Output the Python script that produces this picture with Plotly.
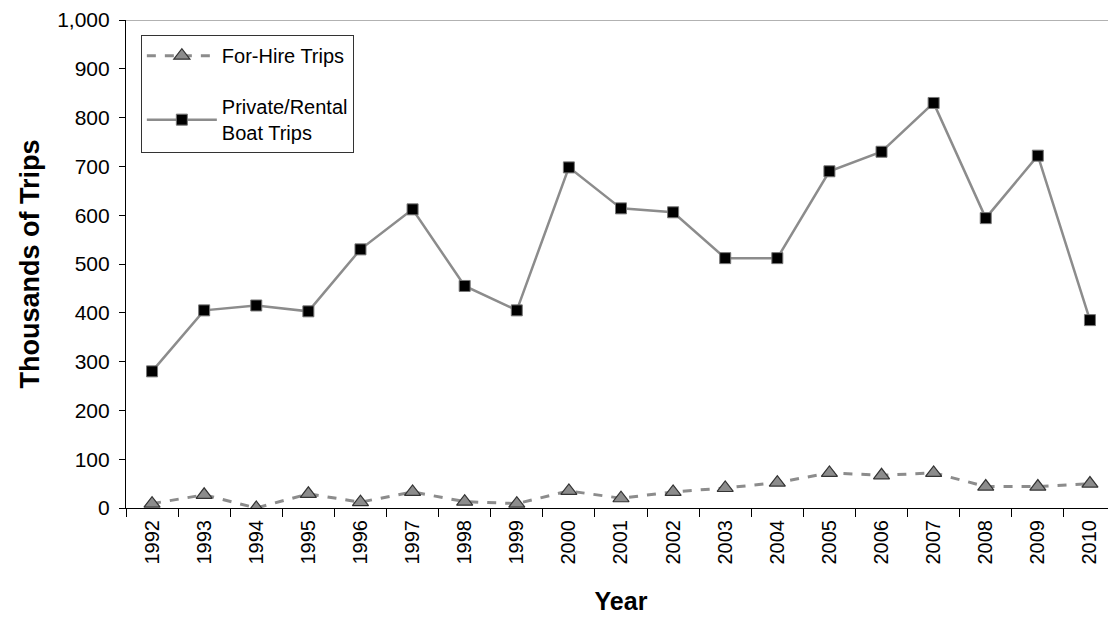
import plotly.graph_objects as go

years = [str(y) for y in range(1992, 2011)]
for_hire = [9, 27, 0, 29, 12, 33, 13, 9, 35, 20, 33, 41, 52, 72, 67, 72, 44, 44, 50]
private_rental = [280, 405, 415, 403, 530, 612, 455, 405, 698, 614, 606, 512, 512, 690, 730, 830, 594, 722, 385]
y_ticks = [0, 100, 200, 300, 400, 500, 600, 700, 800, 900, 1000]

fig = go.Figure()
fig.add_trace(go.Scatter(
    x=years, y=for_hire, name="For-Hire Trips", mode="lines+markers",
    line=dict(color="#8c8c8c", width=3, dash="dash"),
    marker=dict(symbol="triangle-up", size=14, color="#8c8c8c",
                line=dict(color="#333333", width=1.2)),
    legendgroup="a",
))
fig.add_trace(go.Scatter(
    x=years, y=private_rental, name="Private/Rental<br>Boat Trips", mode="lines+markers",
    line=dict(color="#8c8c8c", width=2.5),
    marker=dict(symbol="square", size=11, color="#000000",
                line=dict(color="#777777", width=1)),
    legendgroup="b",
))

font_family = "Liberation Sans, Arial, sans-serif"
fig.update_layout(
    width=1116, height=620,
    margin=dict(l=118, r=8, t=12, b=120),
    paper_bgcolor="white", plot_bgcolor="white",
    font=dict(family=font_family, size=20, color="#000000"),
    showlegend=True,
    legend=dict(
        x=0.015, y=0.969, xanchor="left", yanchor="top",
        bordercolor="#333333", borderwidth=1, bgcolor="white",
        font=dict(size=20, family=font_family),
        tracegroupgap=22, itemwidth=70,
    ),
    xaxis=dict(
        type="category", range=[-0.5, 18.5], automargin=False,
        showgrid=False, showline=True, linecolor="#000000", linewidth=1.2,
        ticks="outside", ticklen=8, tickcolor="#000000", tickson="boundaries",
        tickangle=-90, tickfont=dict(size=20), ticklabelstandoff=3,
        title=dict(text="<b>Year</b>", font=dict(size=25), standoff=28),
    ),
    yaxis=dict(
        range=[0, 1000], tickvals=y_ticks, tickformat=",", automargin=False,
        showgrid=False, zeroline=False, showline=True, linecolor="#000000", linewidth=1.2,
        ticks="outside", ticklen=6, tickcolor="#000000",
        tickfont=dict(size=21), ticklabelstandoff=5,
        title=dict(text="<b>Thousands of Trips</b>", font=dict(size=27), standoff=9),
    ),
    shapes=[dict(type="line", xref="paper", yref="y", x0=0, x1=1, y0=1000, y1=1000,
                 line=dict(color="#999999", width=1.5))],
)

fig.write_html("out.html")
